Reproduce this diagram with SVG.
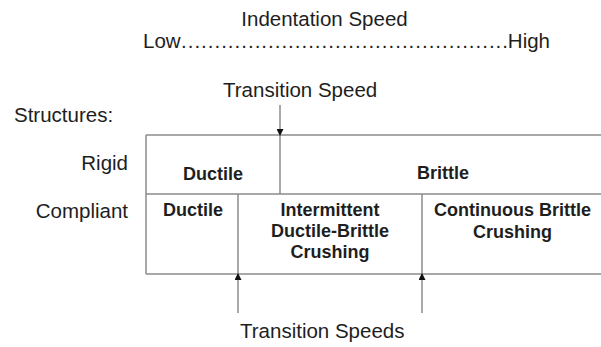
<svg xmlns="http://www.w3.org/2000/svg" width="601" height="347" viewBox="0 0 601 347">
  <defs>
    <style>
      .lbl { font-family: "Liberation Sans", Arial, sans-serif; font-size: 20.5px; fill: #1e1e1e; }
      .cell { font-family: "Liberation Sans", Arial, sans-serif; font-size: 18px; font-weight: bold; fill: #1e1e1e; text-anchor: middle; }
      .grid { stroke: #8c8c8c; stroke-width: 1.5; fill: none; }
      .shaft { stroke: #8c8c8c; stroke-width: 1.5; fill: none; }
    </style>
    <marker id="head" viewBox="0 0 8 8" refX="8" refY="4" markerWidth="8" markerHeight="7" markerUnits="userSpaceOnUse" orient="auto">
      <path d="M0,0 L8,4 L0,8 Z" fill="#111"/>
    </marker>
  </defs>

  <rect width="601" height="347" fill="#ffffff"/>

  <!-- speed scale heading -->
  <g id="scale">
    <text class="lbl" x="324.5" y="26" text-anchor="middle">Indentation Speed</text>
    <text class="lbl" x="143" y="48">Low</text>
    <text class="lbl" x="181" y="48" textLength="327" lengthAdjust="spacing">.................................................</text>
    <text class="lbl" x="550" y="48" text-anchor="end">High</text>
  </g>

  <!-- row headings -->
  <g id="row-labels">
    <text class="lbl" x="14" y="122">Structures:</text>
    <text class="lbl" x="128" y="170" text-anchor="end">Rigid</text>
    <text class="lbl" x="128" y="218" text-anchor="end">Compliant</text>
  </g>

  <!-- table frame -->
  <g id="table" class="grid">
    <path d="M146,135 H601 M146,194 H601 M146,274 H601 M146,135 V274"/>
    <path d="M280,135 V194"/>
    <path d="M238,194 V274 M422,194 V274"/>
  </g>

  <!-- rigid structure regimes -->
  <g id="rigid-ductile">
    <text class="cell" x="213" y="180">Ductile</text>
  </g>
  <g id="rigid-brittle">
    <text class="cell" x="443" y="179">Brittle</text>
  </g>

  <!-- compliant structure regimes -->
  <g id="compliant-ductile">
    <text class="cell" x="193" y="216">Ductile</text>
  </g>
  <g id="compliant-intermittent">
    <text class="cell" x="330" y="216">Intermittent</text>
    <text class="cell" x="330" y="237">Ductile-Brittle</text>
    <text class="cell" x="330" y="258">Crushing</text>
  </g>
  <g id="compliant-continuous">
    <text class="cell" x="512.5" y="216">Continuous Brittle</text>
    <text class="cell" x="512.5" y="238">Crushing</text>
  </g>

  <!-- transition speed labels -->
  <g id="transition-top">
    <text class="lbl" x="223" y="97">Transition Speed</text>
  </g>
  <g id="transition-bottom">
    <text class="lbl" x="240" y="338">Transition Speeds</text>
  </g>

  <!-- connectors -->
  <g id="connectors" class="shaft">
    <line x1="280" y1="105" x2="280" y2="136" marker-end="url(#head)"/>
    <line x1="238" y1="313" x2="238" y2="273" marker-end="url(#head)"/>
    <line x1="422" y1="313" x2="422" y2="273" marker-end="url(#head)"/>
  </g>
</svg>
